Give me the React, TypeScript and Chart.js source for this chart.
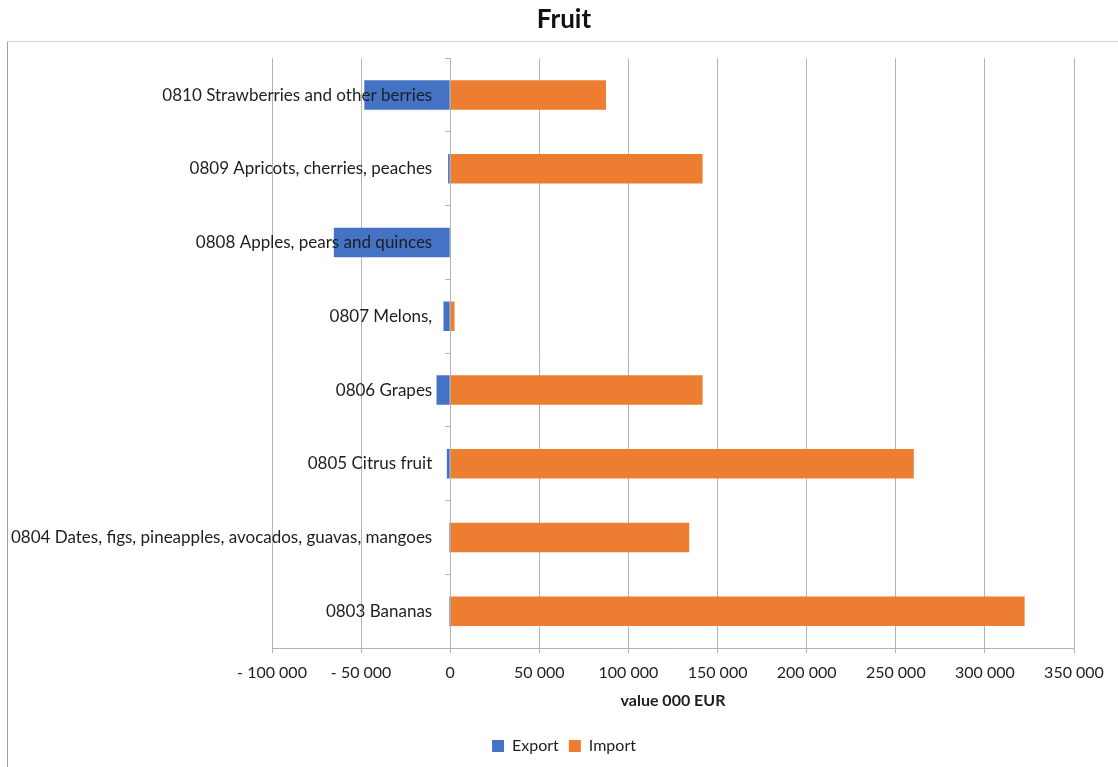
import React, { useEffect, useRef } from "react";
import { Chart, registerables } from "chart.js";

Chart.register(...registerables);

const categories = [
  "0810 Strawberries and other berries",
  "0809 Apricots, cherries, peaches",
  "0808 Apples, pears and quinces",
  "0807 Melons,",
  "0806 Grapes",
  "0805 Citrus fruit",
  "0804 Dates, figs, pineapples, avocados, guavas, mangoes",
  "0803 Bananas",
];
const exportValues = [-48200, -1200, -65300, -3800, -7700, -1900, -600, -600];
const importValues = [87400, 141600, 300, 2400, 141600, 260100, 134100, 322300];
const xMin = -100000;
const xMax = 350000;
const xStep = 50000;
const chartTitle = "Fruit";
const xAxisTitle = "value 000 EUR";
const seriesNames = ["Export", "Import"];

const FONT = "Lato, 'Noto Sans', sans-serif";
const TEXT = "#1e1e1e";
const GRID = "#b4b4b4";

function fmt(v: number): string {
  const abs = Math.abs(v).toString().replace(/\B(?=(\d{3})+(?!\d))/g, " ");
  return v < 0 ? "- " + abs : abs;
}

const framePlugin = {
  id: "frame",
  beforeDraw(chart: any) {
    const ctx = chart.ctx;
    ctx.save();
    ctx.lineWidth = 1;
    ctx.strokeStyle = "#d0d0d0";
    ctx.beginPath();
    ctx.moveTo(8, 41.5);
    ctx.lineTo(chart.width, 41.5);
    ctx.stroke();
    ctx.strokeStyle = "#a0a0a0";
    ctx.beginPath();
    ctx.moveTo(7.5, 41.5);
    ctx.lineTo(7.5, chart.height);
    ctx.stroke();
    ctx.restore();
  },
};

const spacerAxis = (width: number, position: string) => ({
  type: "category",
  position,
  display: true,
  ticks: { display: false },
  grid: { display: false },
  border: { display: false },
  afterFit: (s: any) => {
    s.width = width;
  },
});

export default function App() {
  const ref = useRef<HTMLCanvasElement | null>(null);
  useEffect(() => {
    if (!ref.current) return;
    const chart = new Chart(ref.current, {
      type: "bar",
      data: {
        labels: categories,
        datasets: [
          {
            label: seriesNames[0],
            data: exportValues,
            backgroundColor: "#4472C4",
            barPercentage: 0.4,
            categoryPercentage: 1,
          },
          {
            label: seriesNames[1],
            data: importValues,
            backgroundColor: "#ED7D31",
            barPercentage: 0.4,
            categoryPercentage: 1,
          },
        ],
      },
      options: {
        indexAxis: "y",
        responsive: false,
        animation: false,
        layout: { padding: { left: 10, right: 0, top: 0, bottom: 3 } },
        scales: {
          x: {
            stacked: true,
            min: xMin,
            max: xMax,
            position: "bottom",
            ticks: {
              stepSize: xStep,
              callback: (v: any) => fmt(Number(v)),
              font: { family: FONT, size: 16 },
              color: TEXT,
              padding: 10,
              maxRotation: 0,
            },
            grid: { color: GRID, lineWidth: 1, tickLength: 5 },
            border: { color: GRID },
            title: {
              display: true,
              text: xAxisTitle,
              font: { family: FONT, size: 16, weight: "bold", lineHeight: 1 },
              color: TEXT,
              padding: { top: 0, bottom: 19.6 },
            },
          },
          y: {
            stacked: true,
            position: { x: -10100 },
            ticks: {
              z: 1,
              font: { family: FONT, size: 17 },
              color: TEXT,
              autoSkip: false,
            },
            grid: { display: false },
            border: { display: false },
          },
          yZero: {
            type: "category",
            axis: "y",
            position: { x: 0 },
            offset: true,
            ticks: { display: false },
            grid: { offset: true, drawOnChartArea: false, color: GRID, tickLength: 5 },
            border: { color: GRID },
          },
          yPadL: spacerAxis(262, "left"),
          yPadR: spacerAxis(44, "right"),
        },
        plugins: {
          title: {
            display: true,
            text: chartTitle,
            font: { family: FONT, size: 26, weight: "bold" },
            color: "#111",
            padding: { top: 4, bottom: 23 },
          },
          legend: {
            position: "bottom",
            labels: {
              font: { family: FONT, size: 16 },
              color: TEXT,
              boxWidth: 12,
              boxHeight: 12,
              padding: 10,
            },
          },
          tooltip: { enabled: false },
        },
      },
      plugins: [framePlugin],
    } as any);
    return () => chart.destroy();
  }, []);
  return (
    <div style={{ position: "fixed", left: 0, top: 0, width: 1118, height: 767, background: "#fff" }}>
      <canvas ref={ref} width={1118} height={767} style={{ display: "block" }} />
    </div>
  );
}
